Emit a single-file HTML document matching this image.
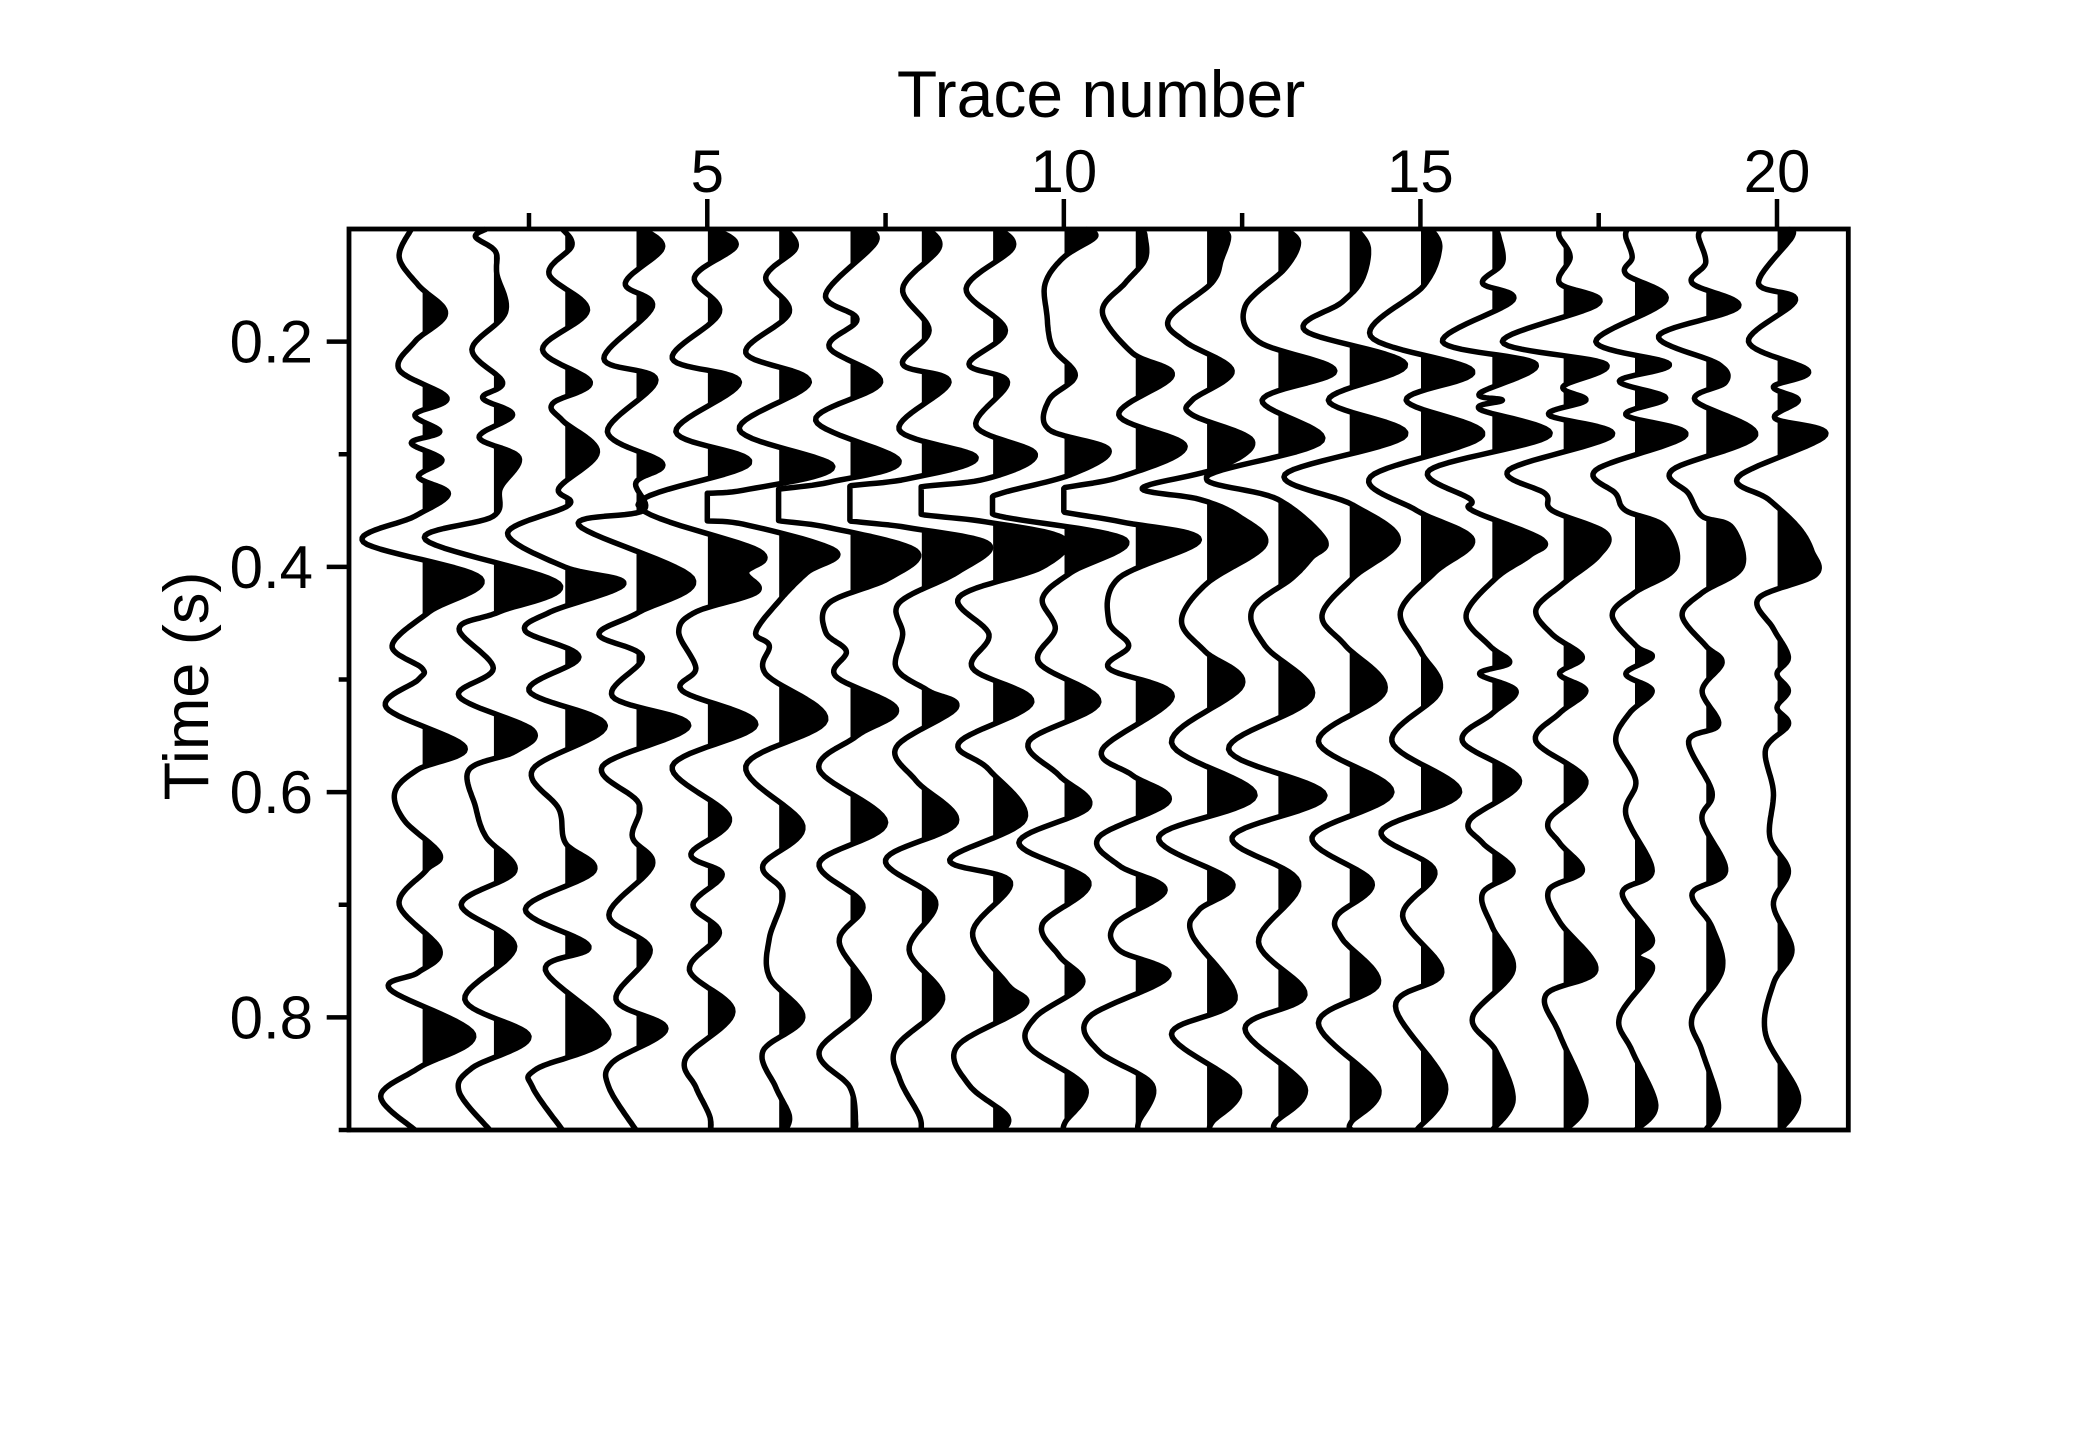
<!DOCTYPE html>
<html><head><meta charset="utf-8"><style>
html,body{margin:0;padding:0;background:#fff;}
svg{display:block;}
text{font-family:"Liberation Sans",Arial,sans-serif;fill:#000;}
</style></head><body>
<svg id="chart" width="2079" height="1446" viewBox="0 0 2079 1446" xmlns="http://www.w3.org/2000/svg">
<rect x="0" y="0" width="2079" height="1446" fill="#fff"/>
<defs id="defs"></defs>
<g id="traces"></g>
<g id="axes"></g>
<text x="1101" y="117" font-size="66" text-anchor="middle">Trace number</text>
<text transform="translate(208,686) rotate(-90)" font-size="63" text-anchor="middle">Time (s)</text>
</svg>
<script>
const xTickValues=[5,10,15,20];
const xMinorTicks=[2.5,7.5,12.5,17.5];
const yTickValues=[0.2,0.4,0.6,0.8];
const yTickLabels=["0.2","0.4","0.6","0.8"];
const yMinorTicks=[0.3,0.5,0.7,0.9];

const trace1T=[0.1,0.125,0.15,0.175,0.2,0.225,0.25,0.265,0.28,0.29,0.305,0.32,0.335,0.355,0.378,0.41,0.44,0.47,0.49,0.5,0.525,0.56,0.58,0.6,0.625,0.655,0.67,0.7,0.74,0.76,0.775,0.815,0.845,0.87,0.9];
const trace1A=[-0.15,-0.32,-0.05,0.33,-0.1,-0.32,0.35,-0.1,0.25,-0.15,0.28,-0.05,0.37,-0.1,-0.82,0.82,0.1,-0.42,0,-0.05,-0.5,0.6,-0.06,-0.38,-0.25,0.25,0.05,-0.32,0.25,-0.05,-0.45,0.72,-0.05,-0.58,-0.1];
const trace2T=[0.1,0.107,0.12,0.14,0.174,0.207,0.236,0.25,0.265,0.285,0.303,0.33,0.355,0.376,0.415,0.44,0.455,0.49,0.515,0.545,0.564,0.58,0.613,0.64,0.67,0.7,0.737,0.784,0.817,0.845,0.866,0.9];
const trace2A=[-0.1,-0.25,0.03,0.05,0.17,-0.3,0.13,-0.15,0.27,-0.2,0.36,0.1,0,-0.95,0.92,0.08,-0.48,0,-0.48,0.55,0.3,-0.34,-0.25,-0.1,0.3,-0.45,0.3,-0.4,0.5,-0.3,-0.48,-0.05];
const trace3T=[0.1,0.115,0.14,0.172,0.207,0.236,0.255,0.27,0.298,0.33,0.345,0.37,0.4,0.415,0.44,0.457,0.48,0.51,0.541,0.58,0.615,0.645,0.67,0.704,0.737,0.758,0.815,0.846,0.862,0.9];
const trace3A=[-0.03,0.1,-0.22,0.32,-0.31,0.36,-0.17,-0.03,0.46,-0.08,0.06,-0.8,0,0.83,-0.2,-0.55,0.2,-0.5,0.57,-0.45,-0.08,0.01,0.41,-0.55,0.34,-0.27,0.62,-0.4,-0.45,-0.03];
const trace4T=[0.1,0.117,0.148,0.169,0.215,0.234,0.28,0.308,0.325,0.35,0.363,0.41,0.44,0.46,0.48,0.515,0.541,0.577,0.61,0.64,0.665,0.709,0.74,0.784,0.81,0.84,0.862,0.9];
const trace4A=[0.1,0.37,-0.15,0.23,-0.45,0.28,-0.4,0.37,0,0.1,-0.8,0.79,0.05,-0.52,0.09,-0.33,0.74,-0.47,0.04,-0.05,0.23,-0.38,0.2,-0.28,0.42,-0.33,-0.38,0];
const trace5T=[0.1,0.115,0.143,0.174,0.215,0.236,0.28,0.308,0.345,0.386,0.405,0.422,0.44,0.458,0.49,0.51,0.54,0.577,0.623,0.655,0.673,0.7,0.725,0.758,0.795,0.836,0.862,0.887,0.9];
const trace5A=[0.1,0.4,-0.18,0.17,-0.49,0.45,-0.44,0.59,-0.97,0.73,0.55,0.7,-0.16,-0.4,-0.16,-0.35,0.68,-0.49,0.31,-0.23,0.21,-0.2,0.17,-0.25,0.36,-0.3,-0.16,0.03,0.05];
const trace6T=[0.1,0.117,0.143,0.174,0.21,0.236,0.278,0.311,0.332,0.337,0.357,0.362,0.386,0.405,0.43,0.458,0.47,0.495,0.536,0.577,0.63,0.665,0.69,0.73,0.764,0.8,0.83,0.862,0.887,0.9];
const trace6A=[0.1,0.24,-0.18,0.15,-0.46,0.43,-0.55,0.76,-0.5,-1.3,-1.3,-0.5,0.8,0.4,0.01,-0.32,-0.13,-0.18,0.66,-0.46,0.34,-0.22,0.06,-0.13,-0.13,0.34,-0.22,-0.04,0.15,0.1];
const trace7T=[0.1,0.112,0.158,0.18,0.205,0.236,0.27,0.306,0.325,0.335,0.355,0.365,0.386,0.41,0.432,0.458,0.475,0.497,0.526,0.55,0.58,0.627,0.663,0.7,0.733,0.784,0.83,0.862,0.893,0.9];
const trace7A=[0.2,0.36,-0.34,0.1,-0.29,0.43,-0.48,0.69,-0.3,-1.3,-1.3,-0.3,0.93,0.55,-0.29,-0.34,-0.05,-0.2,0.65,0.1,-0.43,0.5,-0.43,0.18,-0.15,0.27,-0.43,0,0.08,0.05];
const trace8T=[0.1,0.117,0.153,0.19,0.22,0.236,0.278,0.303,0.322,0.332,0.355,0.365,0.38,0.405,0.432,0.46,0.49,0.51,0.525,0.56,0.59,0.627,0.66,0.697,0.74,0.784,0.826,0.855,0.887,0.9];
const trace8A=[0.1,0.25,-0.26,0.11,-0.26,0.39,-0.31,0.77,-0.2,-1.3,-1.3,-0.2,0.95,0.5,-0.31,-0.26,-0.35,0.1,0.49,-0.35,-0.07,0.49,-0.5,0.2,-0.17,0.3,-0.35,-0.3,-0.03,0];
const trace9T=[0.1,0.117,0.153,0.19,0.22,0.236,0.275,0.3,0.322,0.332,0.35,0.36,0.375,0.4,0.427,0.46,0.49,0.52,0.556,0.58,0.624,0.66,0.68,0.725,0.77,0.79,0.826,0.86,0.887,0.9];
const trace9A=[0.1,0.28,-0.37,0.18,-0.33,0.21,-0.23,0.6,-0.1,-1.3,-1.3,-0.1,1.0,0.7,-0.47,-0.05,-0.28,0.55,-0.47,-0.05,0.45,-0.6,0.25,-0.28,0.2,0.45,-0.5,-0.33,0.2,0.15];
const trace10T=[0.1,0.107,0.125,0.148,0.175,0.205,0.23,0.252,0.278,0.296,0.318,0.335,0.345,0.355,0.376,0.405,0.428,0.455,0.485,0.52,0.555,0.585,0.613,0.645,0.68,0.717,0.745,0.77,0.8,0.826,0.862,0.893,0.9];
const trace10A=[0.3,0.44,0,-0.26,-0.24,-0.16,0.16,-0.21,-0.21,0.63,0.1,-0.9,-1.2,-0.9,0.86,0.1,-0.3,-0.12,-0.35,0.49,-0.49,-0.07,0.35,-0.63,0.35,-0.3,-0.07,0.26,-0.4,-0.49,0.3,0.02,0];
const trace11T=[0.1,0.107,0.127,0.148,0.174,0.21,0.23,0.265,0.293,0.32,0.333,0.348,0.36,0.376,0.41,0.448,0.47,0.49,0.515,0.562,0.585,0.608,0.64,0.665,0.687,0.717,0.74,0.763,0.8,0.83,0.86,0.893,0.9];
const trace11A=[0.1,0.14,0.14,-0.14,-0.46,-0.04,0.52,-0.23,0.7,-0.2,-1.2,-1.2,-0.2,0.9,-0.23,-0.37,-0.09,-0.37,0.52,-0.46,-0.04,0.47,-0.51,-0.23,0.42,-0.28,-0.23,0.47,-0.65,-0.51,0.24,0.05,0.05];
const trace12T=[0.1,0.107,0.127,0.148,0.18,0.2,0.226,0.252,0.265,0.288,0.312,0.33,0.34,0.355,0.38,0.415,0.448,0.475,0.505,0.556,0.603,0.64,0.68,0.705,0.727,0.784,0.815,0.862,0.893,0.9];
const trace12A=[0.2,0.31,0.21,0.07,-0.53,-0.3,0.36,-0.2,-0.2,0.64,0.17,-0.9,-0.1,0.45,0.82,0,-0.35,-0.02,0.5,-0.49,0.68,-0.67,0.36,-0.11,-0.2,0.4,-0.49,0.45,0.08,0.05];
const trace13T=[0.1,0.112,0.135,0.169,0.2,0.226,0.252,0.288,0.32,0.34,0.376,0.392,0.41,0.438,0.47,0.515,0.562,0.603,0.64,0.68,0.733,0.78,0.81,0.862,0.893,0.9];
const trace13A=[0.1,0.29,0.1,-0.46,-0.27,0.8,-0.22,0.62,-1.0,0,0.66,0.47,0.2,-0.36,-0.18,0.48,-0.69,0.66,-0.64,0.29,-0.27,0.38,-0.46,0.38,-0.03,-0.03];
const trace14T=[0.1,0.117,0.145,0.165,0.19,0.22,0.252,0.283,0.318,0.345,0.376,0.41,0.443,0.47,0.51,0.555,0.6,0.64,0.68,0.71,0.73,0.77,0.805,0.862,0.893,0.9];
const trace14A=[0.1,0.27,0.18,-0.1,-0.62,0.79,-0.29,0.79,-0.9,0.05,0.69,0.05,-0.38,-0.05,0.5,-0.43,0.6,-0.52,0.32,-0.17,-0.1,0.41,-0.43,0.41,0.03,0.03];
const trace15T=[0.1,0.117,0.15,0.195,0.226,0.252,0.283,0.32,0.35,0.376,0.405,0.44,0.475,0.51,0.555,0.6,0.635,0.67,0.71,0.76,0.79,0.86,0.9];
const trace15A=[0.15,0.27,0.05,-0.7,0.73,-0.2,0.87,-0.7,-0.05,0.73,0.2,-0.28,0,0.27,-0.4,0.55,-0.55,0.2,-0.25,0.3,-0.35,0.35,-0.05];
const trace16T=[0.1,0.107,0.13,0.148,0.163,0.2,0.22,0.246,0.252,0.26,0.283,0.314,0.34,0.35,0.376,0.39,0.41,0.443,0.47,0.485,0.495,0.51,0.53,0.555,0.59,0.625,0.645,0.67,0.69,0.72,0.758,0.8,0.83,0.873,0.9];
const trace16A=[0.05,0.1,0.15,-0.13,0.3,-0.69,0.62,-0.17,0.15,-0.17,0.81,-0.87,-0.3,-0.27,0.71,0.53,0.06,-0.36,-0.03,0.25,-0.17,0.34,0.01,-0.41,0.39,-0.31,-0.13,0.3,-0.13,0.01,0.3,-0.27,0.06,0.3,0.01];
const trace17T=[0.1,0.107,0.125,0.148,0.166,0.2,0.22,0.24,0.252,0.265,0.283,0.314,0.335,0.35,0.37,0.39,0.415,0.438,0.46,0.48,0.495,0.51,0.53,0.555,0.59,0.625,0.645,0.67,0.687,0.715,0.758,0.78,0.815,0.873,0.9];
const trace17A=[-0.05,-0.05,0.1,-0.05,0.5,-0.85,0.6,0,0.32,-0.2,0.69,-0.76,-0.25,-0.15,0.6,0.5,0,-0.38,-0.15,0.27,-0.05,0.32,-0.05,-0.38,0.32,-0.2,-0.05,0.27,-0.2,-0.05,0.46,-0.24,-0.05,0.32,0.04];
const trace18T=[0.1,0.107,0.125,0.14,0.163,0.2,0.22,0.235,0.25,0.265,0.283,0.314,0.335,0.35,0.365,0.4,0.423,0.443,0.47,0.48,0.495,0.51,0.53,0.555,0.59,0.62,0.67,0.69,0.73,0.745,0.758,0.8,0.83,0.878,0.9];
const trace18A=[-0.1,-0.12,-0.03,-0.12,0.44,-0.54,0.49,-0.21,0.44,-0.12,0.72,-0.54,-0.26,-0.12,0.44,0.58,0,-0.31,0.02,0.25,-0.12,0.25,-0.07,-0.26,0.02,-0.12,0.25,-0.17,0.25,0.05,0.25,-0.21,-0.03,0.3,0.02];
const trace19T=[0.1,0.107,0.13,0.148,0.169,0.195,0.22,0.236,0.252,0.283,0.314,0.335,0.355,0.365,0.4,0.423,0.443,0.47,0.485,0.51,0.54,0.555,0.6,0.625,0.67,0.69,0.72,0.758,0.8,0.83,0.878,0.9];
const trace19A=[-0.05,-0.1,0,-0.19,0.46,-0.66,0.18,0.28,-0.15,0.7,-0.47,-0.24,-0.05,0.37,0.51,-0.05,-0.33,0,0.23,-0.05,0.18,-0.24,0.09,-0.05,0.28,-0.19,0.09,0.23,-0.19,-0.05,0.18,0];
const trace20T=[0.1,0.107,0.148,0.163,0.2,0.226,0.24,0.252,0.268,0.283,0.32,0.34,0.365,0.386,0.407,0.428,0.455,0.48,0.495,0.51,0.525,0.54,0.562,0.6,0.64,0.67,0.7,0.74,0.77,0.815,0.87,0.9];
const trace20A=[0.15,0.21,-0.26,0.26,-0.4,0.44,-0.05,0.3,-0.03,0.68,-0.54,-0.12,0.3,0.49,0.54,-0.26,-0.05,0.16,0,0.16,0,0.16,-0.16,-0.05,-0.1,0.16,-0.05,0.21,-0.05,-0.16,0.3,0.05];

const traceTimes=[trace1T,trace2T,trace3T,trace4T,trace5T,trace6T,trace7T,trace8T,trace9T,trace10T,trace11T,trace12T,trace13T,trace14T,trace15T,trace16T,trace17T,trace18T,trace19T,trace20T];
const traceAmps=[trace1A,trace2A,trace3A,trace4A,trace5A,trace6A,trace7A,trace8A,trace9A,trace10A,trace11A,trace12A,trace13A,trace14A,trace15A,trace16A,trace17A,trace18A,trace19A,trace20A];

const NS="http://www.w3.org/2000/svg";
const PL=350.7, PR=1848.3, PT=229, PB=1130;
const X0=0, X1=21, T0=0.1, T1=0.9;
function xScale(v){return PL+(v-X0)/(X1-X0)*(PR-PL);}
function yScale(t){return PT+(t-T0)/(T1-T0)*(PB-PT);}
const unit=xScale(1)-xScale(0);

function mk(tag,attrs,parent){const e=document.createElementNS(NS,tag);for(const k in attrs)e.setAttribute(k,attrs[k]);parent.appendChild(e);return e;}

const gTr=document.getElementById('traces');
const defs=document.getElementById('defs');

for(let i=0;i<traceTimes.length;i++){
  const ts=traceTimes[i], as=traceAmps[i];
  const n=Math.min(ts.length,as.length);
  const base=xScale(i+1);
  const P=[];
  for(let k=0;k<n;k++)P.push([ts[k],as[k]]);
  const pts=[];
  for(let k=0;k<n-1;k++){
    const p0=P[Math.max(k-1,0)],p1=P[k],p2=P[k+1],p3=P[Math.min(k+2,n-1)];
    const steps=14;
    for(let s=0;s<steps;s++){
      const u=s/steps,u2=u*u,u3=u2*u;
      const f=(a,b,c,d)=>0.5*((2*b)+(-a+c)*u+(2*a-5*b+4*c-d)*u2+(-a+3*b-3*c+d)*u3);
      const t=f(p0[0],p1[0],p2[0],p3[0]);
      let a=f(p0[1],p1[1],p2[1],p3[1]);
      a=Math.max(-1,Math.min(1.05,a));
      pts.push([base+a*unit,yScale(t)]);
    }
  }
  const last=P[n-1];
  pts.push([base+Math.max(-1,Math.min(1.05,last[1]))*unit,yScale(last[0])]);
  const d='M'+pts.map(p=>p[0].toFixed(1)+','+p[1].toFixed(1)).join('L');
  const cp=mk('clipPath',{id:'clip'+i},defs);
  mk('rect',{x:base+0.6,y:PT,width:200,height:PB-PT},cp);
  const fill=mk('path',{d:'M'+base+','+pts[0][1].toFixed(1)+'L'+d.slice(1)+'L'+base+','+pts[pts.length-1][1].toFixed(1)+'Z',fill:'#000','clip-path':'url(#clip'+i+')'},gTr);
  
  
  const line=mk('path',{d:d,fill:'none',stroke:'#000','stroke-width':5.5,'stroke-linejoin':'round'},gTr);
  
  
}

const gAx=document.getElementById('axes');
const frame=mk('rect',{x:PL-1.7,y:PT,width:PR-PL+1.7,height:PB-PT,fill:'none',stroke:'#000','stroke-width':4.8},gAx);


xTickValues.forEach(v=>{
  const x=xScale(v);
  const tk=mk('line',{x1:x,y1:PT,x2:x,y2:PT-30,stroke:'#000','stroke-width':4.5},gAx);
  
  
  const lb=mk('text',{x:x,y:192,'font-size':60,'text-anchor':'middle'},gAx);
  lb.textContent=String(v);
  
  
});
xMinorTicks.forEach(v=>{
  const x=xScale(v);
  const tk=mk('line',{x1:x,y1:PT,x2:x,y2:PT-16,stroke:'#000','stroke-width':4.5},gAx);
  
  
});
yTickValues.forEach((v,i)=>{
  const y=yScale(v);
  const tk=mk('line',{x1:PL-24,y1:y,x2:PL,y2:y,stroke:'#000','stroke-width':4.5},gAx);
  
  
  const lb=mk('text',{x:313,y:y+21,'font-size':60,'text-anchor':'end'},gAx);
  lb.textContent=yTickLabels[i];
  
  
});
yMinorTicks.forEach(v=>{
  const y=yScale(v);
  const tk=mk('line',{x1:PL-12,y1:y,x2:PL,y2:y,stroke:'#000','stroke-width':4.5},gAx);
  
  
});
</script>
</body></html>
